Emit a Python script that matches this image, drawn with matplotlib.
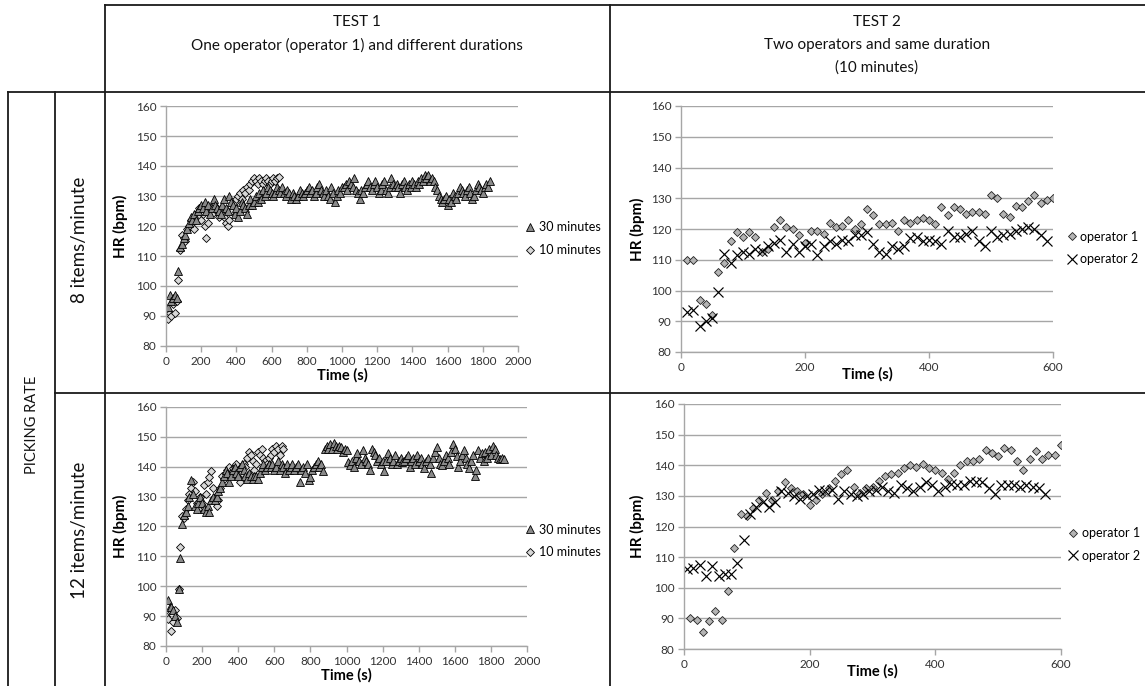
import numpy as np
import matplotlib
matplotlib.use('Agg')
import matplotlib.pyplot as plt
from matplotlib.lines import Line2D

W, H = 1145, 686
plt.rcParams['font.family'] = ['Lato', 'DejaVu Sans']

# ---------------- heart rate data (bpm), one sample every 10 s ----------------
# TEST 1, 8 items/minute
hr8_30min = [93, 97, 95, 96, 97, 96, 105, 113, 114, 116,
             117, 119, 121, 123, 122, 124, 122, 125, 126, 127,
             126, 128, 125, 127, 124, 126, 129, 127, 126, 125,
             124, 127, 129, 126, 125, 130, 128, 127, 124, 126,
             123, 125, 128, 127, 126, 124, 127, 129, 127, 128,
             130, 128, 131, 129, 132, 130, 131, 133, 132, 131,
             130, 131, 133, 132, 131, 133, 131, 130, 132, 131,
             129, 131, 130, 129, 130, 132, 131, 130, 131, 132,
             133, 131, 132, 130, 131, 133, 134, 132, 131, 130,
             132, 130, 129, 133, 131, 128, 130, 132, 131, 133,
             133, 134, 132, 135, 134, 133, 136, 132, 131, 129,
             132, 131, 133, 134, 135, 133, 132, 134, 135, 133,
             131, 132, 134, 135, 132, 131, 133, 136, 134, 133,
             134, 133, 131, 134, 135, 133, 132, 134, 133, 135,
             134, 133, 135, 134, 136, 135, 137, 136, 137, 135,
             136, 135, 133, 132, 130, 129, 128, 129, 130, 127,
             129, 128, 131, 130, 129, 131, 133, 132, 131, 130,
             132, 133, 131, 129, 130, 132, 134, 133, 132, 131,
             133, 134, 133, 135]
hr8_10min = [90, 89, 91, 90, 94, 91, 95, 102, 112, 117,
             116, 115, 119, 120, 122, 121, 119, 124, 123, 126,
             122, 124, 120, 116, 121, 126, 124, 127, 126, 125,
             123, 126, 124, 123, 121, 120, 122, 125, 127, 128,
             129, 130, 131, 129, 132, 131, 133, 132, 134, 135,
             136, 135, 134, 136, 135, 134, 135, 136, 135, 134,
             135, 136, 135, 136, 136.5]

# TEST 1, 12 items/minute
hr12_30min = [95.5, 93, 93, 92, 90, 88, 99, 109.5, 121, 124,
              125, 127, 130, 135.5, 131, 127, 126, 128, 130, 128,
              126, 125, 127, 125, 129, 130, 129, 130, 132, 133,
              135, 137, 139, 138, 135, 137, 139, 140, 138, 137,
              140, 141, 139, 137, 136, 138, 137, 136, 137, 137,
              136, 138, 140, 141, 139, 140, 141, 140, 141, 139,
              140, 142, 139, 141, 140, 138, 141, 139, 140, 141,
              139, 140, 141, 135, 139, 140, 138, 141, 135.5, 136.5,
              139, 140, 141, 142, 140, 141, 138.5, 146, 147, 146,
              147.5, 146, 148, 147, 146, 147, 146.5, 145, 146, 145.5,
              141.5, 140.5, 142, 140, 143, 144.5, 142, 141, 145.5, 143,
              142, 141, 139, 146, 145, 144, 142, 143, 141, 142,
              138.5, 142, 144.5, 143, 141, 142, 144, 141, 142, 143,
              141.5, 142, 143, 144, 140, 142, 143, 141, 144, 142,
              143, 141, 139.5, 142, 143, 141, 138, 143, 145, 146.5,
              143, 141, 140.5, 142, 144, 143, 141, 145, 147.5, 146,
              143.5, 140, 142, 144, 145.5, 143, 141, 139.5, 142, 144,
              137, 139, 145.5, 143, 144.5, 142, 145, 143, 146, 144,
              147, 146, 144, 143, 142.5, 143, 142.5]
hr12_10min = [90, 89, 92, 85, 88, 92, 89.5, 99, 113, 123.5,
              123, 126, 129, 131, 133, 135, 132, 128, 126, 130,
              128, 134, 131, 135, 136.5, 138.5, 133, 130, 127, 129,
              133, 137, 136, 138, 139, 140, 138, 139.5, 140, 141,
              137, 135, 138, 141, 140, 143, 145, 144, 142, 139,
              141, 145, 144, 146, 143, 142, 141, 143, 144, 146,
              145, 147, 146, 144, 147, 146]

# TEST 2, 8 items/minute, 10 minutes
hr8_op1 = [110, 110, 97, 95.5, 92, 106, 109, 116, 119, 117.5,
           119, 117.5, 112.5, 113.5, 120.5, 123, 120.5, 120, 118, 115.5,
           119.5, 119.5, 118.5, 122, 120.5, 121, 123, 120, 121.5, 126.5,
           124.5, 121.5, 121.5, 122, 119.5, 123, 122, 123, 123.5, 123,
           121.5, 127, 124.5, 127, 126.5, 125, 125.5, 125.5, 125, 131,
           130, 125, 124, 127.5, 127, 129, 131, 128.5, 129.5, 130]
hr8_op2 = [93, 93.5, 88.5, 90, 91, 99.5, 112, 109, 111.5, 112.5,
           112, 113.5, 113, 114.5, 115.5, 116.5, 112.5, 115, 112.5, 114.5,
           115, 111.5, 114.5, 116, 115, 116.5, 116, 118, 118, 119,
           115, 112.5, 112, 114.5, 113.5, 114.5, 117, 117.5, 116, 116.5,
           116, 115, 119.5, 117.5, 117.5, 118.5, 119.5, 116, 114.5, 119.5,
           117.5, 118, 118.5, 119.5, 120, 120.5, 120, 118, 116]

# TEST 2, 12 items/minute, 10 minutes
hr12_op1 = [90, 89.5, 85.5, 89, 92.5, 89.5, 99, 113, 124, 123.5,
            126, 128.5, 131, 128.5, 131.5, 134.5, 132.5, 131.5, 130.5, 127,
            128.5, 130.5, 132.5, 135, 137, 138.5, 133, 131, 132.5, 133,
            135, 136.5, 137, 137.5, 139, 140, 139.5, 140.5, 139, 138.5,
            137.5, 135.5, 137.5, 140, 141.5, 141.5, 142, 145, 144, 143,
            145.5, 145, 141.5, 138.5, 142, 144.5, 142, 143.5, 143.5, 146.5]
hr12_op2 = [106, 106.5, 107.5, 104, 107, 104, 104.5, 104.5, 108, 115.5,
            124, 126.5, 128, 126.5, 128, 131.5, 131, 130, 129, 130,
            130.5, 132, 131.5, 132, 129, 131.5, 130.5, 130, 130.5, 131.5,
            132, 133, 131.5, 131, 133.5, 132.5, 131.5, 133, 134.5, 133.5,
            131.5, 133, 134, 133.5, 133.5, 135, 134.5, 134.5, 132.5, 130.5,
            133.5, 133.5, 133.5, 133, 133.5, 133, 132.5, 130.5]

ylim = (80, 160)


def times(values, start):
    return np.arange(start, start + 10 * len(values), 10)


def px_box(left, right, top, bottom):
    return [left / W, 1 - bottom / H, (right - left) / W, (bottom - top) / H]


def style_axes(ax, xmax, xstep, ylab_px, xlab_pad):
    ax.set_xlim(0, xmax)
    ax.set_ylim(*ylim)
    ax.set_yticks(range(80, 161, 10))
    ax.set_xticks(range(0, xmax + 1, xstep))
    ax.grid(axis='y', color='#a6a6a6', lw=1.0)
    ax.set_axisbelow(True)
    for s in ['top', 'right']:
        ax.spines[s].set_visible(False)
    for s in ['left', 'bottom']:
        ax.spines[s].set_color('#a6a6a6')
        ax.spines[s].set_linewidth(1.0)
    ax.tick_params(direction='out', length=4, width=1, color='#a6a6a6',
                   labelsize=8.5, labelcolor='#333333', pad=3)
    ax.set_xlabel('Time (s)', fontweight='bold', fontsize=10.5, labelpad=xlab_pad)
    ax.set_ylabel('HR (bpm)', fontweight='bold', fontsize=11)
    # place the y label by its centre, in pixels left of the axis
    box = ax.get_position()
    ax.yaxis.label.set_verticalalignment('center')
    ax.yaxis.set_label_coords(-ylab_px / (box.width * W), 0.5)


def add_legend(ax, handles, labels, x, y):
    ax.legend(handles, labels, loc='center left', bbox_to_anchor=(x, y),
              frameon=False, fontsize=9, handlelength=1.0, handletextpad=0.2,
              labelspacing=0.85, borderpad=0, borderaxespad=0)


fig = plt.figure(figsize=(W / 100, H / 100), dpi=100)

tri = dict(ls='none', marker='^', ms=5.4, mfc='#8a8a8a', mec='black', mew=0.6)
dia_light = dict(ls='none', marker='D', ms=3.8, mfc='#d8d8d8', mec='black', mew=0.6)
dia_gray = dict(ls='none', marker='D', ms=4.2, mfc='#b4b4b4', mec='#222222', mew=0.6)
cross = dict(ls='none', marker='x', ms=6.8, color='black', mew=0.85)

# TEST 1 / 8 items
ax = fig.add_axes(px_box(166, 518, 106, 346))
d, = ax.plot(times(hr8_10min, 0), hr8_10min, **dia_light)
t, = ax.plot(times(hr8_30min, 10), hr8_30min, **tri)
style_axes(ax, 2000, 200, 46, 1)
add_legend(ax, [t, d], ['30 minutes', '10 minutes'], 1.016, 0.447)

# TEST 1 / 12 items
ax = fig.add_axes(px_box(166, 527, 407, 646))
d, = ax.plot(times(hr12_10min, 0), hr12_10min, **dia_light)
t, = ax.plot(times(hr12_30min, 10), hr12_30min, **tri)
style_axes(ax, 2000, 200, 46, 1)
add_legend(ax, [t, d], ['30 minutes', '10 minutes'], 0.991, 0.44)

# TEST 2 / 8 items
ax = fig.add_axes(px_box(681, 1053, 106, 352))
o1, = ax.plot(times(hr8_op1, 10), hr8_op1, **dia_gray)
o2, = ax.plot(times(hr8_op2, 10), hr8_op2, **cross)
style_axes(ax, 600, 200, 44, -4)
add_legend(ax, [o1, o2], ['operator 1', 'operator 2'], 1.033, 0.423)

# TEST 2 / 12 items
ax = fig.add_axes(px_box(684, 1061, 404, 649))
o1, = ax.plot(times(hr12_op1, 10), hr12_op1, **dia_gray)
o2, = ax.plot(times(hr12_op2, 5), hr12_op2, **cross)
style_axes(ax, 600, 200, 47, -4)
add_legend(ax, [o1, o2], ['operator 1', 'operator 2'], 1.015, 0.427)

# table frame
segments = [((105, 1145), (5, 5)),
            ((8, 1145), (92, 92)),
            ((55, 1145), (393, 393)),
            ((105, 105), (5, 686)),
            ((610, 610), (5, 686)),
            ((8, 8), (92, 686)),
            ((55, 55), (92, 686))]
for xs, ys in segments:
    fig.add_artist(Line2D([x / W for x in xs], [1 - y / H for y in ys],
                          color='#1a1a1a', lw=1.3, transform=fig.transFigure))

head = dict(ha='center', va='center', fontsize=11, color='#111111')
fig.text(357 / W, 1 - 22 / H, 'TEST 1', **head)
fig.text(357 / W, 1 - 45 / H, 'One operator (operator 1) and different durations', **head)
fig.text(877 / W, 1 - 22 / H, 'TEST 2', **head)
fig.text(877 / W, 1 - 45 / H, 'Two operators and same duration', **head)
fig.text(877 / W, 1 - 68 / H, '(10 minutes)', **head)

fig.text(32 / W, 1 - 425 / H, 'PICKING RATE', rotation=90, ha='center', va='center',
         fontsize=10.5, color='#111111')
fig.text(80 / W, 1 - 240 / H, '8 items/minute', rotation=90, ha='center', va='center',
         fontsize=13.5, color='#111111')
fig.text(80 / W, 1 - 530 / H, '12 items/minute', rotation=90, ha='center', va='center',
         fontsize=13.5, color='#111111')

fig.savefig('out.png', dpi=100)
